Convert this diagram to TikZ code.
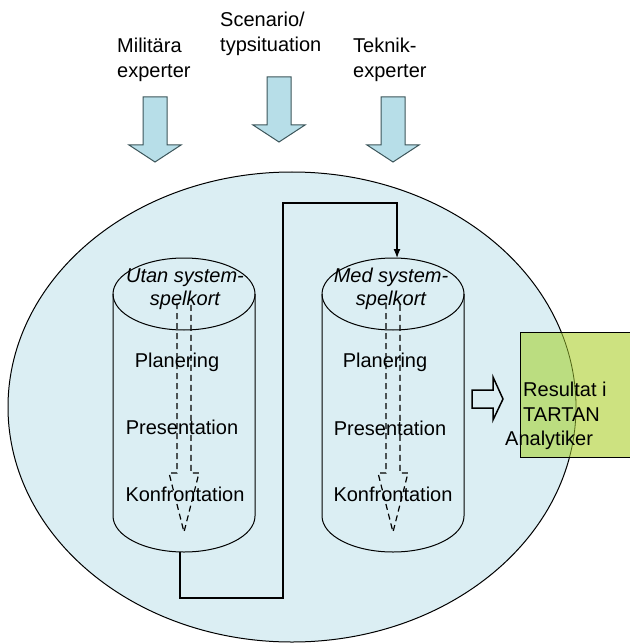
\documentclass[tikz,border=0pt]{standalone}
\usepackage{xcolor}
\usepackage{fontspec}
\setmainfont{Liberation Sans}
\usepackage{tikz}
\usetikzlibrary{arrows.meta}
\usetikzlibrary{positioning}
\usetikzlibrary{shapes.geometric}
\definecolor{arenablue}{RGB}{219,238,243}
\definecolor{inflow}{RGB}{183,222,232}
\definecolor{inflowline}{RGB}{60,85,90}
\definecolor{resgreen}{RGB}{205,226,128}
\definecolor{resdark}{RGB}{187,221,128}
\definecolor{resedge}{RGB}{80,100,20}
\tikzset{>=latex}
\tikzstyle{lbl} = [draw=none, inner sep=0, font=\fontsize{20}{25}\selectfont]
\tikzstyle{cyl} = [draw=black, line width=1pt]
\tikzstyle{flow} = [draw=black, dash pattern=on 6pt off 4pt, line width=1.2pt]
\tikzstyle{inarrow} = [draw=inflowline, fill=inflow, line width=1pt, line join=miter]

\begin{document}
\begin{tikzpicture}[x=1pt, y=-1pt]
\useasboundingbox (0,0) rectangle (629,644);
\node [ellipse, draw=black, fill=arenablue, line width=1pt, minimum width=568pt, minimum height=470pt, inner sep=0] (arena) at (292,407) {};
% result box, partly over the arena
\node [fill=resgreen, minimum width=120pt, minimum height=124pt, inner sep=0] (res) at (581,395) {};
\begin{scope}
\clip (res.north west) rectangle (res.south east);
\fill [resdark] (292,407) ellipse [x radius=284, y radius=235];
\draw [resedge, line width=0.8pt] (292,407) ellipse [x radius=284, y radius=235];
\end{scope}
\draw [line width=1.2pt] (res.north west) rectangle (res.south east);
\node [lbl, anchor=west, align=left] (resultat) at (523,402) {Resultat i\\TARTAN};
\node [lbl, anchor=west] (analytiker) at (505,440) {Analytiker};
\draw [line width=1.5pt, fill=arenablue] (472,390) -- (493,390) -- (493,377) -- (503,399) -- (493,420) -- (493,408) -- (472,408) -- cycle;

% inputs
\foreach \x/\y in {155/97, 279/77, 393/97} {
\draw [inarrow] (\x-12,\y) -- (\x+12,\y) -- (\x+12,\y+48) -- (\x+26,\y+48) -- (\x,\y+65) -- (\x-26,\y+48) -- (\x-12,\y+48) -- cycle;
}
\node [lbl, anchor=west, align=left] (mil) at (117,60) {Militära\\experter};
\node [lbl, anchor=west, align=left] (scen) at (220,34) {Scenario/\\typsituation};
\node [lbl, anchor=west, align=left] (tek) at (353,60) {Teknik-\\experter};

% cylinders
\foreach \x in {184, 393} {
\draw [cyl] (\x-71,294) -- (\x-71,516) arc [start angle=180, end angle=0, x radius=71, y radius=36] -- (\x+71,294);
\draw [cyl] (\x,294) ellipse [x radius=71, y radius=36];
\draw [flow] (\x-7,303) -- (\x-7,473) -- (\x-15,473) -- (\x,532) -- (\x+15,473) -- (\x+7,473) -- (\x+7,303);
}
\node [lbl, align=center, font=\fontsize{20}{23}\selectfont\itshape] (utan) at (185,289) {Utan system-\\spelkort};
\node [lbl] (plan1) at (177,362) {Planering};
\node [lbl] (pres1) at (182,427) {Presentation};
\node [lbl] (konf1) at (185,494) {Konfrontation};
\node [lbl, align=center, font=\fontsize{20}{23}\selectfont\itshape] (med) at (391,289) {Med system-\\spelkort};
\node [lbl] (plan2) at (385,362) {Planering};
\node [lbl] (pres2) at (390,428) {Presentation};
\node [lbl] (konf2) at (393,494) {Konfrontation};

\coordinate (utan-b) at (180,552);
\coordinate (med-t) at (397,258);
\draw [line width=1.2pt, -{Latex[length=9pt,width=7pt]}] (utan-b) |- (283,598) -- (283,203) -| (med-t);
\end{tikzpicture}
\end{document}
